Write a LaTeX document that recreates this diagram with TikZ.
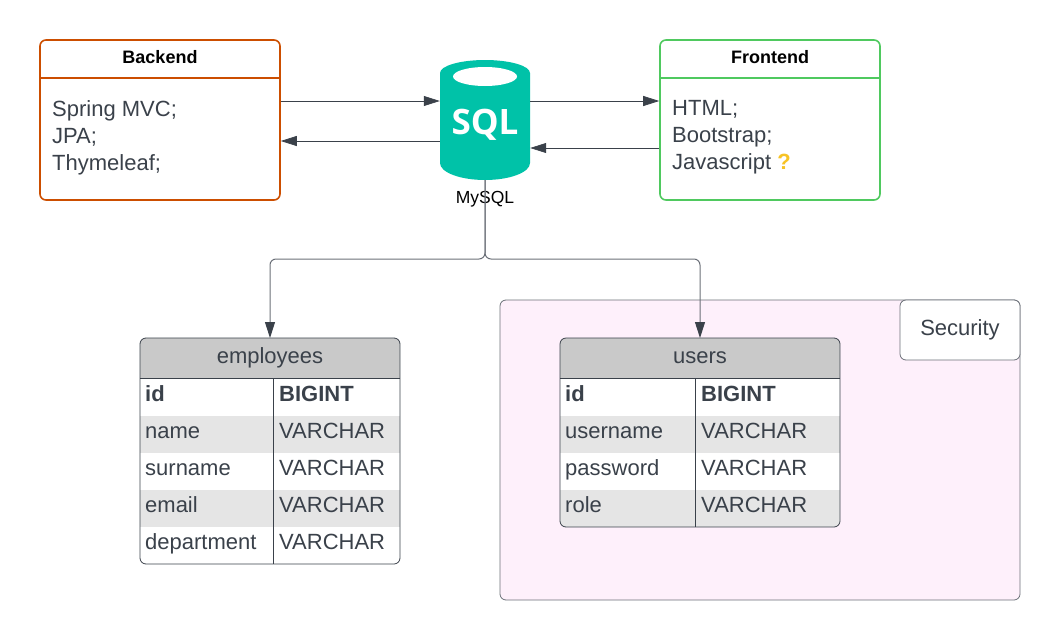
\documentclass[tikz,border=0pt]{standalone}
\usepackage{fontspec}
\setmainfont{Liberation Sans}
\newfontfamily\logofont{Open Sans}
\usepackage{xcolor}
\usetikzlibrary{arrows.meta,positioning}
\definecolor{inkgray}{HTML}{3A414A}
\definecolor{wiregray}{HTML}{6B7078}
\definecolor{headgray}{HTML}{C9C9C9}
\definecolor{rowgray}{HTML}{E5E5E5}
\definecolor{sqlteal}{HTML}{00C2A8}
\definecolor{backorange}{HTML}{CC4E00}
\definecolor{frontgreen}{HTML}{4FC95F}
\definecolor{panelpink}{HTML}{FEF0FB}
\definecolor{hintyellow}{HTML}{F7C325}

\begin{document}
\begin{tikzpicture}[
  x=1pt,y=-1pt,
  classbox/.style={draw,line width=1.6pt,rounded corners=6pt,minimum height=160pt,inner sep=0pt},
  classtitle/.style={font=\fontsize{18}{22}\selectfont\bfseries,minimum height=42pt,inner sep=0pt},
  classbody/.style={anchor=north west,align=left,inner sep=0pt,text=inkgray,font=\fontsize{22}{27}\selectfont},
  cell/.style={anchor=base west,inner sep=0pt,text=inkgray,font=\fontsize{22}{27}\selectfont},
  tablehead/.style={inner sep=0pt,text=inkgray,font=\fontsize{22}{27}\selectfont},
  link/.style={draw=inkgray,line width=.7pt,-{Triangle[length=16pt,width=10pt]}},
  drop/.style={draw=wiregray,line width=1pt,rounded corners=6pt,-{Triangle[length=16pt,width=10pt,color=inkgray]}},
  rule/.style={draw=inkgray,line width=.8pt}]
  \useasboundingbox (0,0) rectangle (1060,640);

  % security panel
  \node[draw=wiregray,line width=.8pt,fill=panelpink,rounded corners=6pt,minimum width=520pt,minimum height=300pt,inner sep=0pt] (panel) at (760,450) {};
  \node[draw=wiregray,line width=.8pt,fill=white,rounded corners=6pt,minimum width=120pt,minimum height=60pt,inner sep=0pt,text=inkgray,font=\fontsize{22}{27}\selectfont] (security) at (960,330) {Security};

  % backend and frontend
  \node[classbox,draw=backorange,minimum width=240pt] (backend) at (160,120) {};
  \node[classtitle] (backtitle) at (160,57) {Backend};
  \draw[backorange,line width=1.6pt] (backend.west |- backtitle.south)--(backend.east |- backtitle.south);
  \node[classbody] (backlist) at (52,100) {Spring MVC;\\JPA;\\Thymeleaf;};

  \node[classbox,draw=frontgreen,minimum width=220pt] (frontend) at (770,120) {};
  \node[classtitle] (fronttitle) at (770,57) {Frontend};
  \draw[frontgreen,line width=1.6pt] (frontend.west |- fronttitle.south)--(frontend.east |- fronttitle.south);
  \node[classbody] (frontlist) at (672,100) {HTML;\\Bootstrap;\\Javascript {\bfseries\textcolor{hintyellow}{?}}};

  % database
  \fill[sqlteal] (440,73) arc[start angle=180,end angle=360,x radius=45,y radius=13]
    -- (530,163) arc[start angle=0,end angle=180,x radius=45,y radius=17] -- cycle;
  \fill[white] (485,76.5) ellipse[x radius=32,y radius=9.5];
  \node[minimum width=90pt,minimum height=120pt,inner sep=0pt] (db) at (485,120) {};
  \node[inner sep=0pt,text=white,font=\logofont\fontsize{35}{35}\selectfont\bfseries] (sqllogo) at (485,125) {SQL};
  \node[inner sep=0pt,font=\fontsize{17.5}{20}\selectfont] (dbname) at (485,199) {MySQL};

  % employees table
  \begin{scope}
    \path[clip,rounded corners=6pt] (140,338) rectangle (400,564);
    \fill[headgray] (140,338) rectangle (400,378);
    \fill[rowgray] (140,416) rectangle (400,453);
    \fill[rowgray] (140,490) rectangle (400,527);
  \end{scope}
  \node[tablehead] (emphead) at (270,358) {employees};
  \coordinate (empnorth) at (270,338);
  \draw[rule,rounded corners=6pt] (140,338) rectangle (400,564);
  \draw[rule] (140,378)--(400,378);
  \draw[rule] (273,378)--(273,564);
  \foreach \y/\nam/\typ in {438/name/VARCHAR,475/surname/VARCHAR,512/email/VARCHAR,549/department/VARCHAR}{
    \node[cell] (emp-\nam) at (145,\y) {\nam};
    \node[cell] (emp-\nam-type) at (279,\y) {\typ};
  }
  \node[cell,font=\fontsize{22}{27}\selectfont\bfseries] (emp-id) at (145,401) {id};
  \node[cell,font=\fontsize{22}{27}\selectfont\bfseries] (emp-id-type) at (279,401) {BIGINT};

  % users table
  \begin{scope}
    \path[clip,rounded corners=6pt] (560,338) rectangle (840,527);
    \fill[white] (560,338) rectangle (840,527);
    \fill[headgray] (560,338) rectangle (840,378);
    \fill[rowgray] (560,416) rectangle (840,453);
    \fill[rowgray] (560,490) rectangle (840,527);
  \end{scope}
  \node[tablehead] (userhead) at (700,358) {users};
  \coordinate (usernorth) at (700,338);
  \draw[rule,rounded corners=6pt] (560,338) rectangle (840,527);
  \draw[rule] (560,378)--(840,378);
  \draw[rule] (695,378)--(695,527);
  \foreach \y/\nam/\typ in {438/username/VARCHAR,475/password/VARCHAR,512/role/VARCHAR}{
    \node[cell] (user-\nam) at (565,\y) {\nam};
    \node[cell] (user-\nam-type) at (701,\y) {\typ};
  }
  \node[cell,font=\fontsize{22}{27}\selectfont\bfseries] (user-id) at (565,401) {id};
  \node[cell,font=\fontsize{22}{27}\selectfont\bfseries] (user-id-type) at (701,401) {BIGINT};

  % connectors
  \draw[link] ([yshift=19pt]backend.east)--([yshift=19pt]db.west);
  \draw[link] ([yshift=-21pt]db.west)--([yshift=-21pt]backend.east);
  \draw[link] ([yshift=19pt]db.east)--([yshift=19pt]frontend.west);
  \draw[link] ([yshift=-28pt]frontend.west)--([yshift=-28pt]db.east);
  \coordinate (split) at (485,259);
  \draw[drop] (db.south)--(split)-|(empnorth);
  \draw[drop] (db.south)--(split)-|(usernorth);
\end{tikzpicture}
\end{document}
